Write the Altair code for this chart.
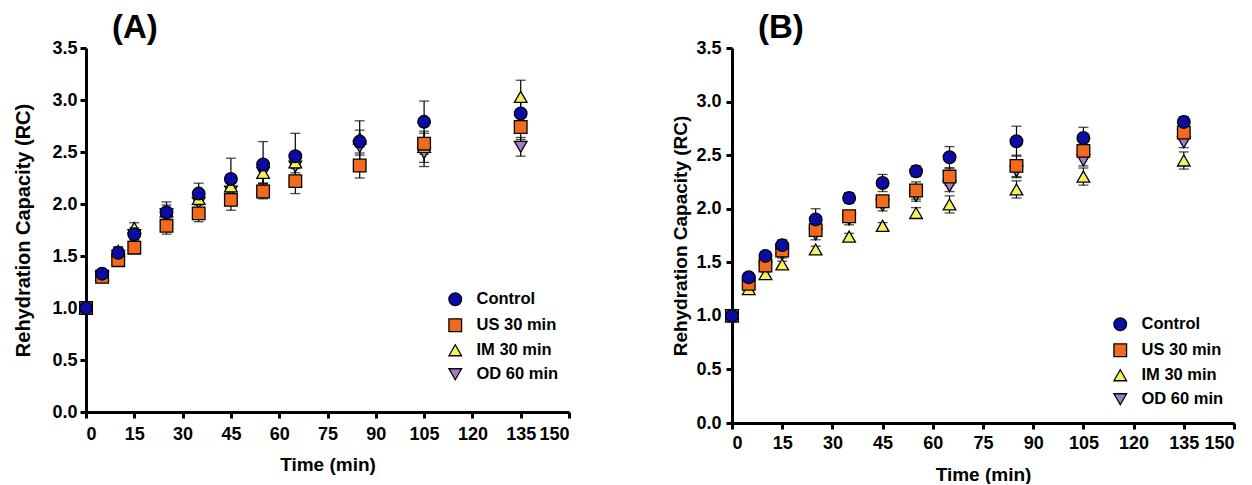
import altair as alt
import pandas as pd

times = [0, 5, 10, 15, 25, 35, 45, 55, 65, 85, 105, 135]
groups = ["Control", "US 30 min", "IM 30 min", "OD 60 min"]
colors = ["#0b0ba6", "#f26b1c", "#f5f259", "#a47cc6"]
shapes = ["circle", "square", "triangle-up", "triangle-down"]

# Panel A (means and SD)
a_control = [1.00, 1.33, 1.53, 1.71, 1.92, 2.10, 2.24, 2.38, 2.46, 2.60, 2.79, 2.87]
a_control_sd = [0, 0.03, 0.05, 0.06, 0.10, 0.10, 0.20, 0.22, 0.22, 0.20, 0.20, 0.12]
a_us = [1.00, 1.30, 1.46, 1.58, 1.79, 1.91, 2.04, 2.12, 2.22, 2.37, 2.58, 2.74]
a_us_sd = [0, 0.04, 0.04, 0.03, 0.08, 0.08, 0.10, 0.07, 0.12, 0.12, 0.10, 0.12]
a_im = [1.00, 1.32, 1.55, 1.77, 1.93, 2.05, 2.17, 2.30, 2.40, 2.63, 2.55, 3.03]
a_im_sd = [0, 0.03, 0.04, 0.05, 0.06, 0.05, 0.08, 0.10, 0.10, 0.08, 0.15, 0.16]
a_od = [1.00, 1.30, 1.50, 1.70, 1.90, 2.01, 2.12, 2.30, 2.36, 2.55, 2.49, 2.55]
a_od_sd = [0, 0.03, 0.04, 0.04, 0.06, 0.06, 0.08, 0.10, 0.10, 0.08, 0.13, 0.09]

# Panel B (means and SD)
b_control = [1.00, 1.36, 1.56, 1.66, 1.90, 2.10, 2.24, 2.35, 2.48, 2.63, 2.66, 2.81]
b_control_sd = [0, 0.03, 0.04, 0.05, 0.10, 0.05, 0.08, 0.05, 0.10, 0.14, 0.10, 0.05]
b_us = [1.00, 1.30, 1.47, 1.61, 1.80, 1.93, 2.07, 2.17, 2.30, 2.40, 2.54, 2.71]
b_us_sd = [0, 0.05, 0.05, 0.05, 0.05, 0.05, 0.05, 0.08, 0.08, 0.10, 0.06, 0.05]
b_im = [1.00, 1.25, 1.39, 1.48, 1.62, 1.74, 1.84, 1.96, 2.04, 2.18, 2.30, 2.45]
b_im_sd = [0, 0.03, 0.03, 0.03, 0.03, 0.03, 0.03, 0.05, 0.08, 0.08, 0.08, 0.08]
b_od = [1.00, 1.28, 1.45, 1.58, 1.76, 1.90, 2.03, 2.12, 2.21, 2.35, 2.45, 2.62]
b_od_sd = [0, 0.03, 0.04, 0.04, 0.05, 0.05, 0.05, 0.05, 0.05, 0.06, 0.05, 0.05]

FONT = "Liberation Sans"


def make_df(series):
    rows = []
    # draw order: OD first, Control last (on top)
    for g, (m, s) in reversed(list(zip(groups, series))):
        for t, v, e in zip(times, m, s):
            rows.append({"time": t, "rc": v, "sd": e, "group": g})
    return pd.DataFrame(rows)


df_a = make_df([(a_control, a_control_sd), (a_us, a_us_sd), (a_im, a_im_sd), (a_od, a_od_sd)])
df_b = make_df([(b_control, b_control_sd), (b_us, b_us_sd), (b_im, b_im_sd), (b_od, b_od_sd)])


def panel(df, label, width, height, lx, ly, row_pad, y_title_pad, y_label_pad,
          x_label_pad, x_title_pad, ytitle_size, title_dx):
    xscale = alt.Scale(domain=[0, 150], nice=False)
    yscale = alt.Scale(domain=[0, 3.5], nice=False)
    xaxis = alt.Axis(values=list(range(0, 151, 15)), labelPadding=x_label_pad, titlePadding=x_title_pad)
    yaxis = alt.Axis(values=[0, 0.5, 1.0, 1.5, 2.0, 2.5, 3.0, 3.5], format=".1f",
                     labelPadding=y_label_pad, titlePadding=y_title_pad, titleFontSize=ytitle_size)
    xt = "Time (min)"
    yt = "Rehydration Capacity (RC)"
    base = alt.Chart(df)
    err = base.transform_filter("datum.sd > 0").transform_calculate(
        lo="datum.rc - datum.sd", hi="datum.rc + datum.sd")
    rule = err.mark_rule(color="black", strokeWidth=1.2).encode(
        x=alt.X("time:Q", scale=xscale, axis=xaxis, title=xt),
        y=alt.Y("lo:Q", scale=yscale, axis=yaxis, title=yt),
        y2="hi:Q",
    )
    cap_hi = err.mark_tick(color="black", thickness=1.3, size=10, orient="horizontal").encode(
        x=alt.X("time:Q", scale=xscale, axis=xaxis, title=xt),
        y=alt.Y("hi:Q", scale=yscale, axis=yaxis, title=yt),
    )
    cap_lo = err.mark_tick(color="black", thickness=1.3, size=10, orient="horizontal").encode(
        x=alt.X("time:Q", scale=xscale, axis=xaxis, title=xt),
        y=alt.Y("lo:Q", scale=yscale, axis=yaxis, title=yt),
    )
    legend = alt.Legend(title=None, orient="none", legendX=lx, legendY=ly,
                        labelFont=FONT, labelFontSize=16.5, labelFontWeight="bold", labelColor="black",
                        symbolSize=160, symbolStrokeWidth=1.3,
                        symbolOpacity=1, rowPadding=row_pad, labelOffset=13, padding=0)
    pts = base.mark_point(filled=True, stroke="black", strokeWidth=1.3, size=160, opacity=1).encode(
        x=alt.X("time:Q", scale=xscale, axis=xaxis, title=xt),
        y=alt.Y("rc:Q", scale=yscale, axis=yaxis, title=yt),
        fill=alt.Fill("group:N", scale=alt.Scale(domain=groups, range=colors), legend=legend, sort=groups),
        shape=alt.Shape("group:N", scale=alt.Scale(domain=groups, range=shapes), legend=legend, sort=groups),
    )
    return alt.layer(rule, cap_hi, cap_lo, pts).properties(
        width=width, height=height,
        title=alt.TitleParams(label, anchor="start", dx=title_dx, fontSize=33, font=FONT,
                              fontWeight="bold", color="black", offset=-6),
    )


pa = panel(df_a, "(A)", 483, 364, 361, 243, 7, 18, 3, 7, 12, 20, 98)
pb = panel(df_b, "(B)", 502, 375, 380, 268, 7, 5, 5, 5, 13, 19, 86)

chart = alt.hconcat(pa, pb, spacing=100).resolve_scale(
    fill="independent", shape="independent"
).resolve_legend(fill="independent", shape="independent").properties(
    padding={"left": 5, "top": 4, "right": 0, "bottom": 0}
).configure_axis(
    domainColor="black", domainWidth=3, tickColor="black", tickWidth=3, tickSize=6,
    labelFont=FONT, labelFontSize=18, labelFontWeight="bold", labelColor="black",
    titleFont=FONT, titleFontSize=19, titleFontWeight="bold", titleColor="black",
    grid=False,
).configure_view(stroke=None)

chart.save("out.html", embed_options={"renderer": "svg", "actions": False})
